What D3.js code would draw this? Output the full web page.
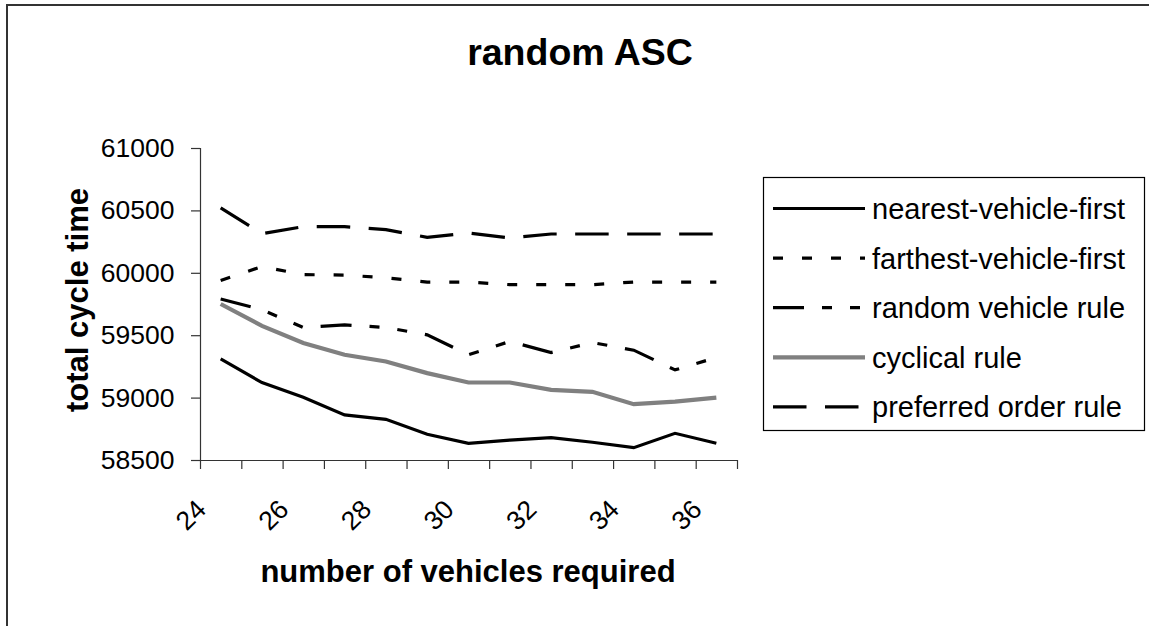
<!DOCTYPE html>
<html>
<head>
<meta charset="utf-8">
<script src="https://cdn.jsdelivr.net/npm/d3@7"></script>
<style>
  html, body { margin: 0; padding: 0; background: #fff; }
  svg { display: block; }
  text { font-family: "Liberation Sans", Arial, sans-serif; fill: #000; }
</style>
</head>
<body>
<svg id="chart" width="1149" height="626"></svg>
<script>
const categories = [24, 25, 26, 27, 28, 29, 30, 31, 32, 33, 34, 35, 36];
const tickLabels = ["24", "26", "28", "30", "32", "34", "36"];
const yTicks = [58500, 59000, 59500, 60000, 60500, 61000];
const seriesNames = ["nearest-vehicle-first", "farthest-vehicle-first", "random vehicle rule", "cyclical rule", "preferred order rule"];
const nearestFirst = [59310, 59120, 59003, 58861, 58826, 58706, 58634, 58660, 58679, 58642, 58599, 58714, 58634];
const farthestFirst = [59939, 60050, 59985, 59982, 59960, 59926, 59926, 59905, 59905, 59905, 59926, 59926, 59926];
const randomRule = [59790, 59704, 59562, 59583, 59562, 59503, 59343, 59450, 59361, 59441, 59380, 59222, 59321];
const cyclicalRule = [59750, 59575, 59437, 59343, 59289, 59196, 59121, 59121, 59062, 59046, 58947, 58968, 59000];
const preferredRule = [60520, 60314, 60370, 60370, 60346, 60284, 60319, 60279, 60311, 60311, 60311, 60311, 60311];

const seriesValues = [nearestFirst, farthestFirst, randomRule, cyclicalRule, preferredRule];
const styles = [
  { color: "#000", width: 3.2, dash: null },
  { color: "#000", width: 3.2, dash: "10,19" },
  { color: "#000", width: 3.2, dash: "31,18,10,18,10,18" },
  { color: "#808080", width: 4.2, dash: null },
  { color: "#000", width: 3.2, dash: "33.5,18.5" }
];

const svg = d3.select("#chart");
const L = 200, R = 737, T = 148, B = 460;

svg.append("rect").attr("x", 7).attr("y", 5).attr("width", 1200).attr("height", 700)
  .attr("fill", "none").attr("stroke", "#333").attr("stroke-width", 2);

const x = d3.scaleBand().domain(categories).range([L, R]).padding(0);
const xEdge = d3.scaleLinear().domain([0, categories.length]).range([L, R]);
const y = d3.scaleLinear().domain([58500, 61000]).range([B, T]);
const cx = d => x(d) + x.bandwidth() / 2;

const yAxis = d3.axisLeft(y).tickValues(yTicks).tickSize(9).tickPadding(16.5).tickFormat(d3.format("d"));
const gy = svg.append("g").attr("transform", `translate(${L},0)`).call(yAxis);
gy.select(".domain").attr("stroke", "#333").attr("stroke-width", 1.2);
gy.selectAll(".tick line").attr("stroke", "#333").attr("stroke-width", 1.2);
gy.selectAll(".tick text").style("font-size", "26.5px").style("font-family", "'Liberation Sans', Arial, sans-serif").attr("fill", "#000");

const xAxis = d3.axisBottom(xEdge).tickValues(d3.range(categories.length + 1)).tickSize(9).tickSizeOuter(0).tickFormat("");
const gx = svg.append("g").attr("transform", `translate(0,${B})`).call(xAxis);
gx.select(".domain").attr("stroke", "#333").attr("stroke-width", 1.2);
gx.selectAll(".tick line").attr("stroke", "#333").attr("stroke-width", 1.2);

svg.append("g").selectAll("text").data(tickLabels).join("text")
  .attr("transform", d => `translate(${cx(+d) - 13},511) rotate(-45)`)
  .attr("text-anchor", "end")
  .style("font-size", "26.5px")
  .text(d => d);

const line = d3.line().x((d, i) => cx(categories[i])).y(d => y(d));
seriesValues.forEach((vals, k) => {
  const s = styles[k];
  svg.append("path").datum(vals)
    .attr("d", line)
    .attr("fill", "none")
    .attr("stroke", s.color)
    .attr("stroke-width", s.width)
    .attr("stroke-dasharray", s.dash)
    .attr("stroke-linejoin", "miter");
});

svg.append("text").attr("x", 580).attr("y", 65).attr("text-anchor", "middle")
  .style("font-size", "37.5px").style("font-weight", "bold").text("random ASC");

svg.append("text").attr("x", 468).attr("y", 582).attr("text-anchor", "middle")
  .style("font-size", "31px").style("font-weight", "bold").text("number of vehicles required");
svg.append("text").attr("transform", "translate(88,300) rotate(-90)").attr("text-anchor", "middle")
  .style("font-size", "31px").style("font-weight", "bold").text("total cycle time");

const lg = svg.append("g");
lg.append("rect").attr("x", 763.5).attr("y", 177.5).attr("width", 381).attr("height", 253)
  .attr("fill", "#fff").attr("stroke", "#000").attr("stroke-width", 1.2);
seriesNames.forEach((name, i) => {
  const yy = 208.5 + i * 49.6;
  const s = styles[i];
  lg.append("line").attr("x1", 773).attr("x2", 865).attr("y1", yy).attr("y2", yy)
    .attr("stroke", s.color).attr("stroke-width", s.width).attr("stroke-dasharray", s.dash);
  lg.append("text").attr("x", 872).attr("y", yy).attr("dy", "0.36em")
    .style("font-size", "29px").text(name);
});
</script>
</body>
</html>
